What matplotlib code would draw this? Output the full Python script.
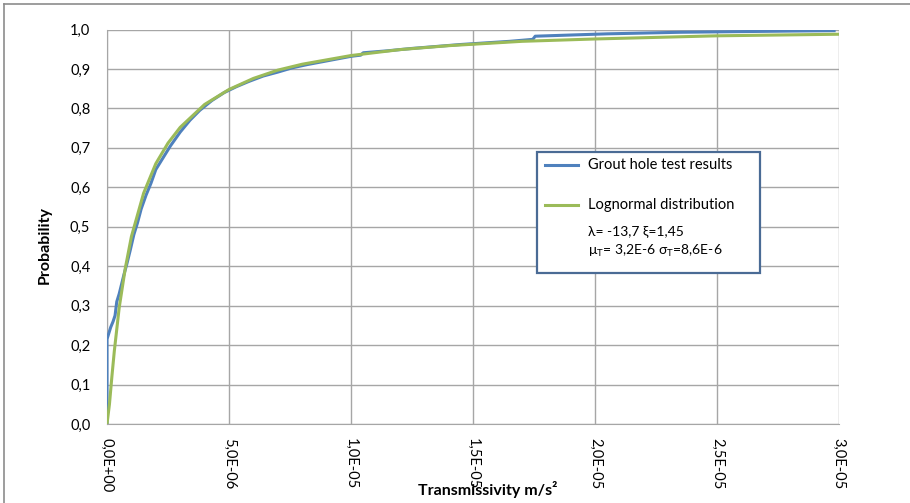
import matplotlib
matplotlib.use("Agg")
import matplotlib.pyplot as plt
from matplotlib.lines import Line2D
from matplotlib.patches import Rectangle

plt.rcParams['font.family'] = ['Lato', 'DejaVu Sans']
plt.rcParams['mathtext.fontset'] = 'custom'
plt.rcParams['mathtext.rm'] = 'Lato'
plt.rcParams['mathtext.it'] = 'Lato:italic'

# ---- data (x in m/s^2) ----
test_x = [0.0, 0.0, 0.05e-6, 0.15e-6, 0.25e-6, 0.33e-6, 0.4e-6, 0.5e-6, 0.6e-6, 0.7e-6,
          0.81e-6, 0.95e-6, 1.1e-6, 1.25e-6, 1.4e-6, 1.6e-6, 1.8e-6, 2.0e-6, 2.3e-6,
          2.6e-6, 3.0e-6, 3.4e-6, 3.8e-6, 4.3e-6, 4.8e-6, 5.3e-6, 5.8e-6, 6.4e-6,
          7.0e-6, 7.6e-6, 8.2e-6, 8.8e-6, 9.4e-6, 10.0e-6, 10.4e-6, 10.5e-6, 11.5e-6,
          12.5e-6, 13.5e-6, 14.5e-6, 15.5e-6, 16.5e-6, 17.45e-6, 17.55e-6, 19.0e-6,
          20.5e-6, 22.0e-6, 23.5e-6, 25.0e-6, 26.5e-6, 28.0e-6, 29.8e-6]
test_y = [0.0, 0.215, 0.225, 0.245, 0.26, 0.275, 0.31, 0.33, 0.355, 0.38,
          0.405, 0.44, 0.48, 0.51, 0.545, 0.58, 0.61, 0.645, 0.675,
          0.705, 0.74, 0.77, 0.795, 0.82, 0.84, 0.855, 0.868, 0.882,
          0.892, 0.903, 0.911, 0.918, 0.925, 0.932, 0.935, 0.941, 0.946,
          0.952, 0.957, 0.962, 0.966, 0.97, 0.975, 0.983, 0.986,
          0.989, 0.991, 0.993, 0.994, 0.995, 0.996, 0.997]

dist_x = [0.0, 0.1e-6, 0.2e-6, 0.3e-6, 0.5e-6, 0.75e-6, 1.0e-6, 1.5e-6, 2.0e-6, 2.5e-6,
          3.0e-6, 4.0e-6, 5.0e-6, 6.0e-6, 7.0e-6, 8.0e-6, 10.0e-6, 12.0e-6, 14.0e-6,
          17.0e-6, 20.0e-6, 25.0e-6, 30.0e-6]
dist_y = [0.0, 0.05, 0.12, 0.185, 0.295, 0.395, 0.475, 0.585, 0.66, 0.712,
          0.752, 0.81, 0.848, 0.876, 0.897, 0.912, 0.934, 0.949, 0.959,
          0.97, 0.976, 0.984, 0.988]

x_ticks = [0.0, 5e-6, 1e-5, 1.5e-5, 2e-5, 2.5e-5, 3e-5]
x_ticklabels = ['0,0E+00', '5,0E-06', '1,0E-05', '1,5E-05', '2,0E-05', '2,5E-05', '3,0E-05']
y_ticks = [0.0, 0.1, 0.2, 0.3, 0.4, 0.5, 0.6, 0.7, 0.8, 0.9, 1.0]
y_ticklabels = ['0,0', '0,1', '0,2', '0,3', '0,4', '0,5', '0,6', '0,7', '0,8', '0,9', '1,0']

blue = '#4F81BD'
green = '#9BBB59'
grid = '#A6A6A6'

W, H = 910, 503
fig = plt.figure(figsize=(W / 100, H / 100), dpi=100)
ax = fig.add_axes([107 / W, 1 - 424 / H, (839 - 107) / W, (424 - 29.5) / H])

ax.plot(test_x, test_y, color=blue, lw=2.2, solid_joinstyle='round', zorder=3)
ax.plot(dist_x, dist_y, color=green, lw=2.2, solid_joinstyle='round', zorder=4)

ax.set_xlim(0, 3e-5)
ax.set_ylim(0, 1.0)
ax.set_xticks(x_ticks)
ax.set_xticklabels(x_ticklabels, rotation=-90, fontsize=10.5)
ax.set_yticks(y_ticks)
ax.set_yticklabels(y_ticklabels, fontsize=10.5)
ax.tick_params(axis='both', length=0, pad=12, colors='black')
ax.tick_params(axis='x', pad=10)
ax.grid(True, color=grid, lw=1)
for s in ax.spines.values():
    s.set_visible(False)
ax.spines['left'].set_visible(True)
ax.spines['left'].set_color(grid)
ax.spines['bottom'].set_visible(True)
ax.spines['bottom'].set_color(grid)
ax.set_axisbelow(True)

fig.text(45 / W, 1 - 245 / H, 'Probability', rotation=90, fontsize=11.5,
         fontweight='bold', ha='center', va='center')
fig.text(488 / W, 1 - 490 / H, 'Transmissivity m/s²', fontsize=11.5,
         fontweight='bold', ha='center', va='center')

# legend box
fig.patches.append(Rectangle((537 / W, 1 - 273 / H), (760 - 537) / W, (273 - 152) / H,
                             transform=fig.transFigure, facecolor='white',
                             edgecolor='#4A6B95', lw=1.6, zorder=5))
fig.lines.append(Line2D([545 / W, 578 / W], [1 - 165 / H] * 2, transform=fig.transFigure,
                        color=blue, lw=2.2, zorder=6))
fig.lines.append(Line2D([545 / W, 578 / W], [1 - 205 / H] * 2, transform=fig.transFigure,
                        color=green, lw=2.2, zorder=6))
fig.text(588 / W, 1 - 165 / H, 'Grout hole test results', fontsize=10.5,
         va='center', ha='left', zorder=7)
fig.text(588 / W, 1 - 205 / H, 'Lognormal distribution', fontsize=10.5,
         va='center', ha='left', zorder=7)
fig.text(588 / W, 1 - 231 / H, 'λ= -13,7 ξ=1,45', fontsize=10,
         va='center', ha='left', zorder=7, family=['DejaVu Sans'] if False else None)
fig.text(588 / W, 1 - 251 / H, r'μ$_\mathrm{T}$= 3,2E-6 σ$_\mathrm{T}$=8,6E-6', fontsize=10,
         va='center', ha='left', zorder=7)

# outer border (left and top)
fig.lines.append(Line2D([3.5 / W, 3.5 / W], [0, 1 - 3.5 / H], transform=fig.transFigure,
                        color='#8C8C8C', lw=1.2))
fig.lines.append(Line2D([3.5 / W, 1], [1 - 3.5 / H] * 2, transform=fig.transFigure,
                        color='#8C8C8C', lw=1.2))

fig.savefig('out.png', dpi=100)
